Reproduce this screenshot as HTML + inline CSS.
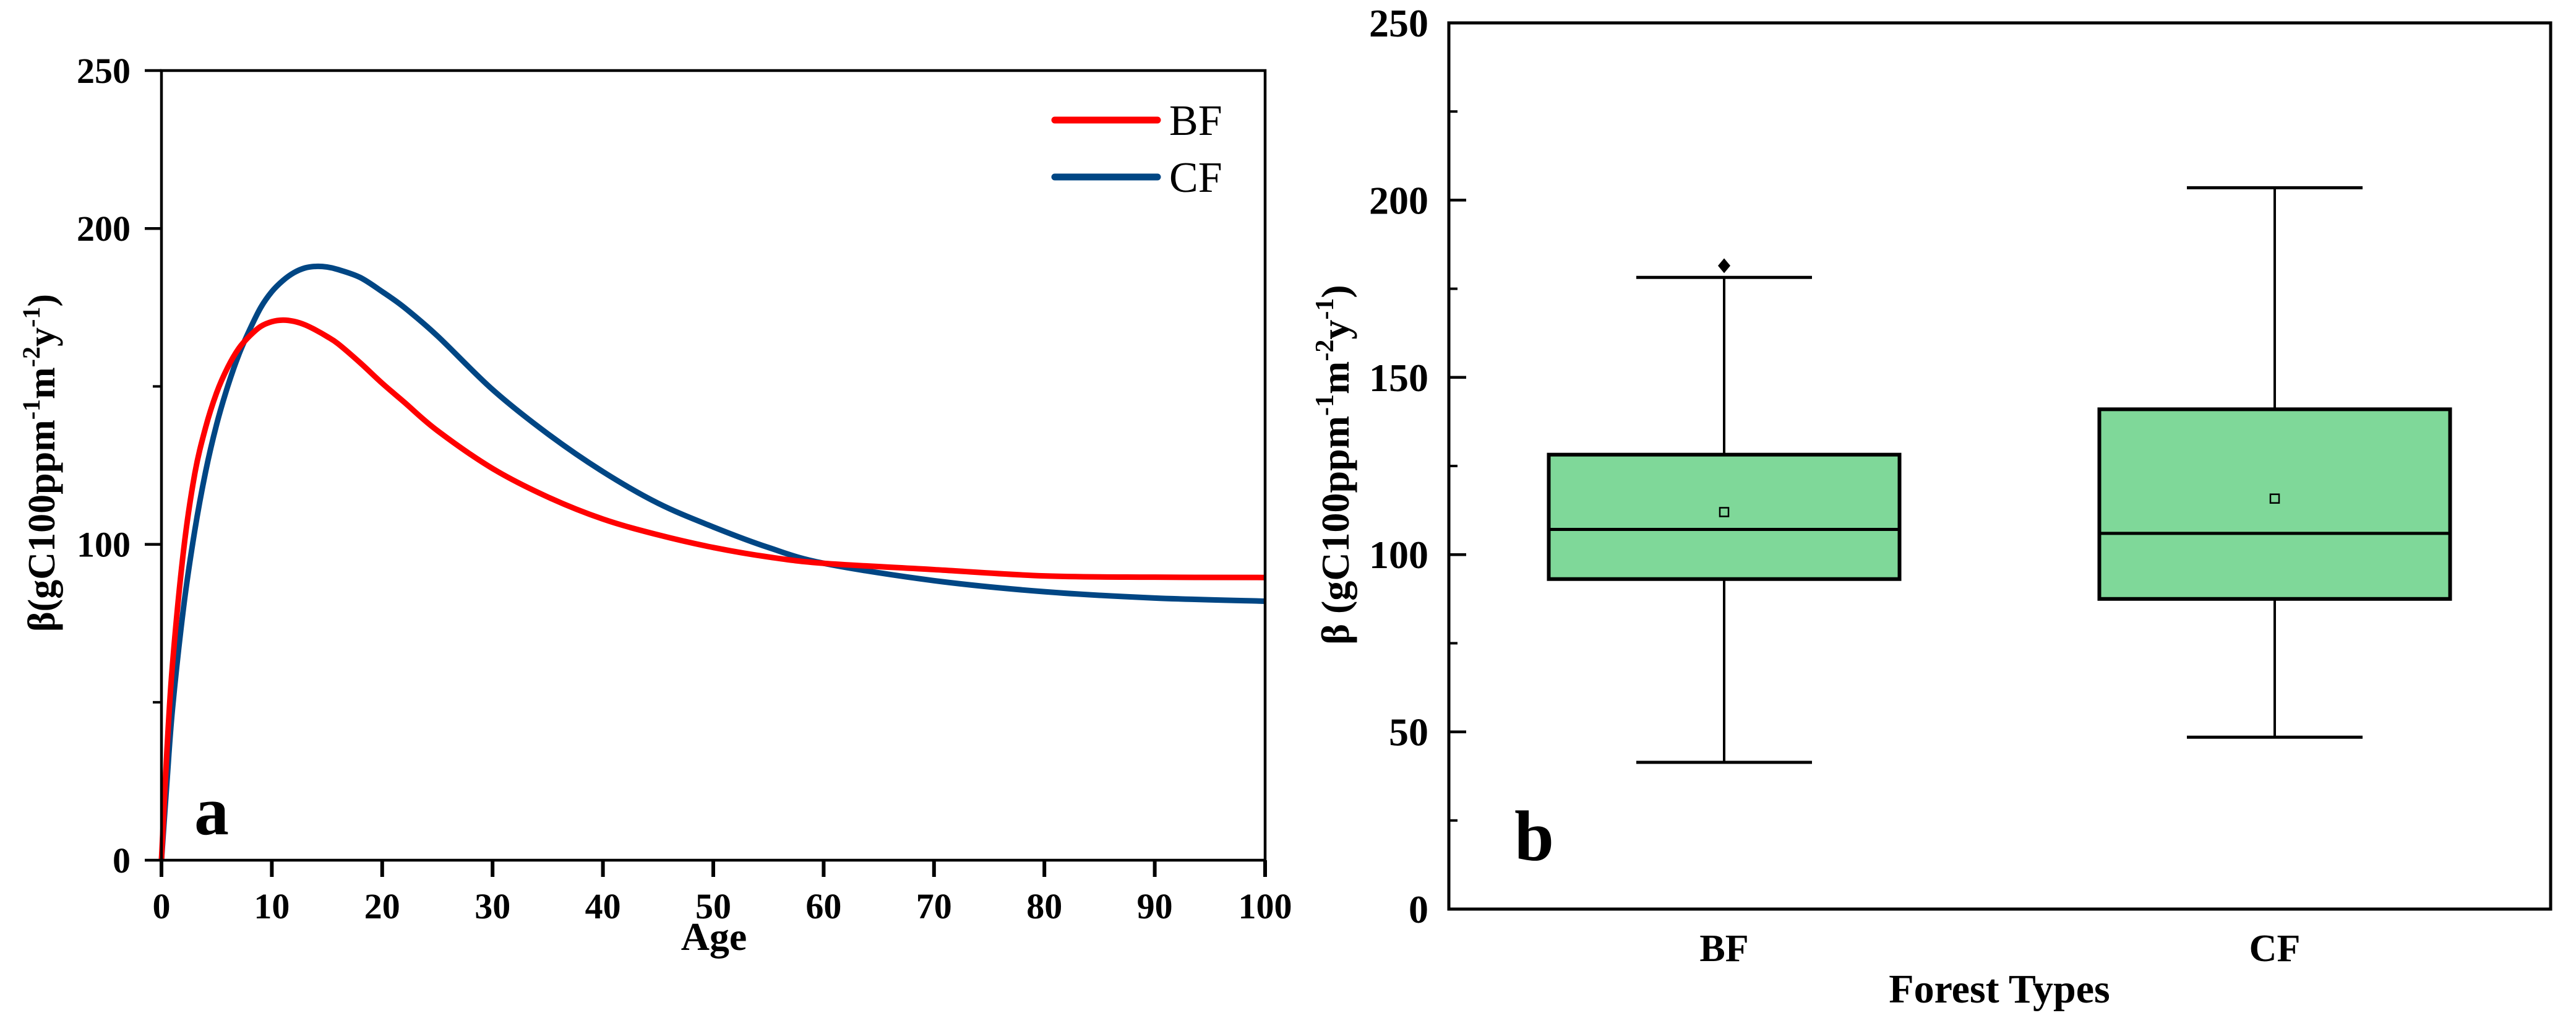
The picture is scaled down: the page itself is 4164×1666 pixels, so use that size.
<!DOCTYPE html>
<html><head><meta charset="utf-8"><style>
html,body{margin:0;padding:0;background:#fff;}
svg{display:block;font-family:"Liberation Serif",serif;}
</style></head><body>
<svg id="fig" width="4164" height="1666" viewBox="0 0 4164 1666" xmlns="http://www.w3.org/2000/svg">
<rect width="4164" height="1666" fill="#fff"/>
<g id="pa"></g>
<g id="pb"></g>
</svg>
<script>
// ---- Panel a data ----
const ages = [0,0.5,1,2,3,4,5,6,7,8,9,10,11,12,13,14,15,16,18,20,22,25,30,35,40,45,50,55,60,70,80,90,100];
const bfValues = [0,35,62,98,122,137,148,156,162,166,169,170.5,171,170.6,169.5,167.8,165.8,163.5,157.5,151,145,136,124,115,108,103,99,96,94,92,90,89.6,89.5];
const cfValues = [0,25,48,80,104,123,138,150,160,168,175,180,183.5,186,187.5,188,187.8,187,184.5,180,175,166,149,135,123,113,105.5,99,94,88.5,85,83,82];
const xTicksA = [0,10,20,30,40,50,60,70,80,90,100];
const yTicksA = [0,100,200,250];
const yMinorA = [50,150];
// ---- Panel b data ----
const boxCats = ["BF","CF"];
const boxQ1 = [93.1,87.5];
const boxMed = [107.1,106];
const boxQ3 = [128.2,141];
const boxLow = [41.4,48.5];
const boxHigh = [178.2,203.5];
const boxMean = [112,115.8];
const boxOutliers = [[181.5],[]];
const yTicksB = [0,50,100,150,200,250];
const yMinorB = [25,75,125,175,225];

const NS="http://www.w3.org/2000/svg";
function mk(parent,tag,attrs,text){const e=document.createElementNS(NS,tag);for(const k in attrs)e.setAttribute(k,attrs[k]);if(text!==undefined)e.textContent=text;parent.appendChild(e);return e;}

// ===== Panel a =====
const pa=document.getElementById('pa');
const A={l:261,r:2045,t:114,b:1390};
const xa=v=>A.l+(v/100)*(A.r-A.l);
const ya=v=>A.b-(v/250)*(A.b-A.t);
function smoothPath(xs,ys){
  const p=xs.map((x,i)=>[xa(x),ya(ys[i])]);
  let d=`M${p[0][0]},${p[0][1]}`;
  for(let i=0;i<p.length-1;i++){
    const p0=p[i-1]||p[i],p1=p[i],p2=p[i+1],p3=p[i+2]||p[i+1];
    const c1=[p1[0]+(p2[0]-p0[0])/6,p1[1]+(p2[1]-p0[1])/6];
    const c2=[p2[0]-(p3[0]-p1[0])/6,p2[1]-(p3[1]-p1[1])/6];
    d+=` C${c1[0]},${c1[1]} ${c2[0]},${c2[1]} ${p2[0]},${p2[1]}`;
  }
  return d;
}
let e;
e=mk(pa,'path',{d:smoothPath(ages,cfValues),fill:'none',stroke:'#004684','stroke-width':9,'stroke-linejoin':'round'});


e=mk(pa,'path',{d:smoothPath(ages,bfValues),fill:'none',stroke:'#ff0000','stroke-width':9,'stroke-linejoin':'round'});


e=mk(pa,'rect',{x:A.l,y:A.t,width:A.r-A.l,height:A.b-A.t,fill:'none',stroke:'#000','stroke-width':4.5});


xTicksA.forEach(v=>{
  e=mk(pa,'line',{x1:xa(v),x2:xa(v),y1:A.b,y2:A.b+27,stroke:'#000','stroke-width':6});
  
  
  e=mk(pa,'text',{x:xa(v),y:1484,'text-anchor':'middle','font-size':58,'font-weight':'bold'},String(v));
  
  
});
yTicksA.forEach(v=>{
  e=mk(pa,'line',{x1:A.l-27,x2:A.l,y1:ya(v),y2:ya(v),stroke:'#000','stroke-width':4.5});
  
  
  e=mk(pa,'text',{x:211,y:ya(v)+20,'text-anchor':'end','font-size':58,'font-weight':'bold'},String(v));
  
  
});
yMinorA.forEach(v=>{
  e=mk(pa,'line',{x1:A.l-14,x2:A.l,y1:ya(v),y2:ya(v),stroke:'#000','stroke-width':4});
  
  
});
</script>
<script>
(function(){
const pa=document.getElementById('pa');
pa.insertAdjacentHTML('beforeend',`
<text x="1154" y="1535" text-anchor="middle" font-size="64" font-weight="bold">Age</text>
<text transform="translate(88,748) rotate(-90)" text-anchor="middle" font-size="62" font-weight="bold">β(gC100ppm<tspan font-size="40" dy="-24">-1</tspan><tspan dy="24">m</tspan><tspan font-size="40" dy="-24">-2</tspan><tspan dy="24">y</tspan><tspan font-size="40" dy="-24">-1</tspan><tspan dy="24">)</tspan></text>
<text x="314" y="1348" font-size="112" font-weight="bold">a</text>
<g>
<line x1="1705" x2="1871" y1="194" y2="194" stroke="#ff0000" stroke-width="11" stroke-linecap="round"/>
<text x="1890" y="218" font-size="70">BF</text>
<line x1="1705" x2="1871" y1="286" y2="286" stroke="#004684" stroke-width="11" stroke-linecap="round"/>
<text x="1890" y="310" font-size="70">CF</text>
</g>`);
})();
</script>
<script>
(function(){
const NS="http://www.w3.org/2000/svg";
function mk(parent,tag,attrs,text){const e=document.createElementNS(NS,tag);for(const k in attrs)e.setAttribute(k,attrs[k]);if(text!==undefined)e.textContent=text;parent.appendChild(e);return e;}
const pb=document.getElementById('pb');
const B={l:2342,r:4123,t:37,b:1469};
const yb=v=>B.b-(v/250)*(B.b-B.t);
const centers=[2787,3677];
const xb=i=>centers[i];
const bw=567, cw=284;
let e;
boxCats.forEach((c,i)=>{
  const cx=xb(i);
  e=mk(pb,'line',{x1:cx,x2:cx,y1:yb(boxHigh[i]),y2:yb(boxQ3[i]),stroke:'#000','stroke-width':4});
  
  
  e=mk(pb,'line',{x1:cx,x2:cx,y1:yb(boxQ1[i]),y2:yb(boxLow[i]),stroke:'#000','stroke-width':4});
  
  
  e=mk(pb,'line',{x1:cx-cw/2,x2:cx+cw/2,y1:yb(boxHigh[i]),y2:yb(boxHigh[i]),stroke:'#000','stroke-width':5});
  
  
  e=mk(pb,'line',{x1:cx-cw/2,x2:cx+cw/2,y1:yb(boxLow[i]),y2:yb(boxLow[i]),stroke:'#000','stroke-width':5});
  
  
  e=mk(pb,'rect',{x:cx-bw/2,y:yb(boxQ3[i]),width:bw,height:yb(boxQ1[i])-yb(boxQ3[i]),fill:'#7fd899',stroke:'#000','stroke-width':6});
  
  
  e=mk(pb,'line',{x1:cx-bw/2,x2:cx+bw/2,y1:yb(boxMed[i]),y2:yb(boxMed[i]),stroke:'#000','stroke-width':5});
  
  
  e=mk(pb,'rect',{x:cx-7,y:yb(boxMean[i])-7,width:14,height:14,fill:'none',stroke:'#000','stroke-width':2.5});
  
  
  boxOutliers[i].forEach(o=>{
    const y=yb(o);
    e=mk(pb,'path',{d:`M${cx},${y-12} L${cx+10},${y} L${cx},${y+12} L${cx-10},${y} Z`,fill:'#000'});
    
    
  });
  e=mk(pb,'text',{x:cx,y:1553,'text-anchor':'middle','font-size':62,'font-weight':'bold'},c);
  
  
});
e=mk(pb,'rect',{x:B.l,y:B.t,width:B.r-B.l,height:B.b-B.t,fill:'none',stroke:'#000','stroke-width':5});


yTicksB.forEach(v=>{
  e=mk(pb,'line',{x1:B.l,x2:B.l+28,y1:yb(v),y2:yb(v),stroke:'#000','stroke-width':4.5});
  
  
  e=mk(pb,'text',{x:2309,y:yb(v)+22,'text-anchor':'end','font-size':64,'font-weight':'bold'},String(v));
  
  
});
yMinorB.forEach(v=>{
  e=mk(pb,'line',{x1:B.l,x2:B.l+14,y1:yb(v),y2:yb(v),stroke:'#000','stroke-width':4});
  
  
});
pb.insertAdjacentHTML('beforeend',`
<text x="3232" y="1620" text-anchor="middle" font-size="66" font-weight="bold">Forest Types</text>
<text transform="translate(2180,751) rotate(-90)" text-anchor="middle" font-size="64" font-weight="bold">β (gC100ppm<tspan font-size="42" dy="-25">-1</tspan><tspan dy="25">m</tspan><tspan font-size="42" dy="-25">-2</tspan><tspan dy="25">y</tspan><tspan font-size="42" dy="-25">-1</tspan><tspan dy="25">)</tspan></text>
<text x="2448" y="1390" font-size="115" font-weight="bold">b</text>`);
})();
</script>
</body></html>
